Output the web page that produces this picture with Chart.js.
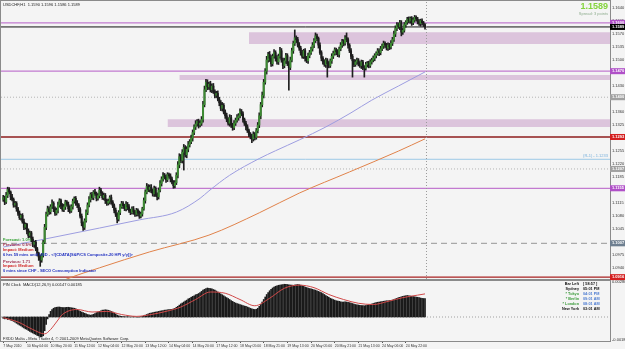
<!DOCTYPE html>
<html>
<head>
<meta charset="utf-8">
<script src="https://cdn.jsdelivr.net/npm/chart.js@4.4.1/dist/chart.umd.min.js"></script>
<style>
html, body { margin: 0; padding: 0; background: #f4f4f4; }
body { width: 625px; height: 349px; position: relative; overflow: hidden; }
#main { position: absolute; left: 0; top: 0; }
#macd { position: absolute; left: 0; top: 280px; }
</style>
</head>
<body>
<canvas id="main" width="625" height="281"></canvas>
<canvas id="macd" width="625" height="69"></canvas>
<script>
// USDCHF H1 - candles in pips above BASE
const BASE = 1.09;
const PIP = 0.0001;

const timeLabels = ['7 May 2010', '10 May 04:00', '10 May 20:00', '11 May 12:00', '12 May 04:00', '12 May 20:00',
  '13 May 12:00', '14 May 04:00', '14 May 20:00', '17 May 12:00', '18 May 05:00', '18 May 21:00',
  '19 May 13:00', '20 May 05:00', '20 May 21:00', '21 May 13:00', '24 May 06:00', '24 May 22:00'];
const LABEL_STEP = 16; // bars between time labels

const yTickLabels = ['1.1640', '1.1605', '1.1570', '1.1535', '1.1500', '1.1465', '1.1430', '1.1395', '1.1360',
  '1.1325', '1.1290', '1.1255', '1.1220', '1.1185', '1.1150', '1.1115', '1.1080', '1.1045', '1.1010', '1.0975', '1.0940'];

const firstOpen = 225;
const closes = [
  230, 218, 236, 252, 245, 232, 225, 210, 214, 200,
  188, 176, 182, 165, 150, 158, 140, 128, 135, 118, 104, 110, 92, 80, 70, 62,
  75, 110, 150, 185, 200,
  192, 205, 215, 200, 188, 196, 210, 222, 208, 198, 205, 218, 212, 200, 194, 206, 220, 228, 215, 210, 198,
  180, 162, 150, 168, 190,
  210, 225, 238, 230, 245, 240, 228, 235, 250, 242, 230, 236, 222, 215,
  220, 230, 218, 208, 196, 185, 172, 190, 205, 214, 208, 200, 212, 205, 195, 190, 200, 192, 185, 196, 188, 180, 186,
  200, 222, 245, 260, 252, 258,
  248, 240, 255, 238, 232, 250,
  268, 280, 290, 285, 278, 292, 288, 280, 272, 262,
  270, 290, 318, 340, 330, 352, 365, 345, 360, 372, 380,
  390, 405, 420, 428, 435,
  425, 430, 440,
  480, 520, 540, 528,
  535, 520, 530, 515, 505, 510, 495, 485, 470, 478, 460, 450,
  440, 430, 445, 425, 418, 430, 438, 445,
  450, 462, 455, 440, 430, 420, 410, 400,
  395, 388, 400, 392, 410,
  425, 450, 480, 505,
  540, 570, 600, 615, 605, 590, 610,
  620, 605, 595, 610, 625, 600, 585, 598, 612, 590, 580,
  600, 625, 645, 660, 655, 640, 632,
  620, 610, 625, 605, 598, 612, 620, 630, 640,
  652, 665, 658, 640,
  620, 605, 595, 588, 600, 590, 585, 598, 610,
  618, 628, 622, 615, 630,
  640, 650, 645, 660, 655, 640, 625, 610, 598, 588, 595,
  600, 590, 585, 595, 580, 578, 588,
  592, 585, 595, 600,
  605, 612, 618, 625, 620, 630, 638, 645, 640,
  632, 640, 635, 645, 655,
  670, 685, 695, 690, 700, 675,
  680, 695, 702, 710, 705, 712, 700, 708, 715, 710, 703, 698, 706, 700, 695, 689
];
const wickUp = [
  6, 4, 8, 6, 5, 3, 7, 4, 6, 5,   4, 6, 3, 5, 7, 4, 3, 6, 5, 4,
  6, 3, 5, 4, 3, 6, 4, 5, 8, 6,   7, 5, 6, 9, 4, 5, 6, 8, 5, 4,
  6, 7, 5, 4, 6, 8, 5, 6, 4, 5,   7, 4, 5, 6, 3, 5, 7, 6, 8, 5,
  6, 4, 7, 5, 6, 8, 5, 4, 6, 5,   4, 6, 5, 7, 4, 5, 6, 4, 5, 7,
  6, 5, 4, 7, 5, 6, 4, 5, 6, 4,   5, 4, 6, 5, 4, 7, 6, 8, 5, 6,
  7, 5, 6, 4, 5, 6, 8, 6, 7, 5,   6, 5, 4, 6, 5, 4, 6, 7, 9, 8,
  6, 7, 8, 5, 7, 9, 6, 8, 7, 6,   9, 5, 6, 7, 8, 9, 10, 8, 7, 6,
  8, 6, 7, 5, 6, 7, 5, 6, 8, 5,   6, 7, 5, 8, 6, 5, 7, 6, 8, 6,
  7, 5, 6, 4, 5, 6, 4, 5, 6, 7,   5, 6, 7, 8, 6, 9, 8, 7, 10, 6,
  8, 7, 6, 8, 5, 7, 6, 9, 6, 5,   7, 6, 5, 6, 8, 7, 6, 21, 5, 6,
  7, 5, 6, 4, 6, 5, 7, 6, 5, 7,   6, 8, 5, 4, 6, 5, 4, 6, 5, 4,
  6, 5, 7, 6, 5, 4, 6, 5, 7, 6,   5, 6, 13, 5, 4, 6, 5, 4, 6, 5,
  4, 6, 5, 4, 5, 6, 4, 5, 6, 5,   6, 5, 4, 6, 5, 7, 5, 6, 4, 5,
  6, 5, 7, 6, 8, 7, 6, 5, 7, 6,   5, 6, 4, 5, 6, 4, 5, 6, 5, 4,
  5, 6, 4, 5, 4, 3
];
const wickDn = [
  5, 7, 4, 6, 5, 8, 4, 6, 5, 7,   6, 5, 7, 4, 6, 5, 8, 6, 5, 7,
  6, 8, 5, 7, 9, 17, 6, 5, 4, 6,  5, 7, 6, 4, 8, 6, 5, 7, 6, 8,
  5, 6, 7, 5, 8, 6, 4, 7, 5, 6,   7, 6, 5, 8, 8, 6, 4, 6, 5, 7,
  5, 6, 4, 7, 5, 6, 7, 5, 6, 8,   6, 5, 7, 6, 5, 7, 6, 10, 5, 6,
  4, 7, 5, 6, 8, 5, 6, 4, 7, 6,   5, 7, 6, 5, 6, 4, 7, 5, 6, 7,
  5, 6, 7, 5, 8, 6, 5, 7, 6, 5,   7, 5, 6, 8, 5, 7, 6, 5, 7, 8,
  6, 7, 48, 6, 8, 7, 6, 5, 8, 6,  7, 6, 8, 5, 6, 7, 6, 5, 8, 7,
  6, 8, 5, 7, 6, 5, 8, 6, 7, 5,   7, 6, 5, 8, 6, 7, 5, 6, 5, 7,
  6, 5, 7, 6, 8, 5, 6, 7, 10, 6,  7, 5, 6, 7, 8, 6, 7, 5, 8, 6,
  9, 7, 6, 5, 8, 6, 7, 5, 6, 8,   6, 7, 5, 61, 6, 5, 7, 6, 8, 5,
  6, 7, 5, 6, 8, 5, 7, 6, 5, 6,   7, 5, 6, 8, 5, 7, 6, 5, 8, 36,
  6, 5, 7, 6, 5, 8, 6, 7, 5, 6,   7, 5, 6, 8, 5, 7, 44, 6, 5, 7,
  6, 5, 8, 6, 24, 5, 7, 6, 5, 6,  5, 7, 6, 5, 8, 6, 5, 7, 6, 5,
  6, 7, 5, 6, 5, 7, 6, 5, 8, 10,  6, 5, 7, 6, 5, 6, 7, 5, 6, 5,
  6, 5, 7, 6, 5, 6
];

// moving averages, [bar, pips above BASE]
const maBluePts = [[0, 97], [25, 116], [65, 148], [92, 170], [117, 191], [133, 228], [139, 248], [153, 290],
  [173, 335], [184, 356], [200, 385], [218, 420], [235, 458], [249, 492], [267, 530], [285, 568]];
const maOrangePts = [[38, 2], [43, 11], [65, 41], [99, 84], [139, 129], [173, 189], [200, 242], [234, 299],
  [267, 355], [285, 388]];

// MACD(12,26,9) in units of 0.00001
const macdHist = [
  -10, -15, -12, -20, -18, -25,
  -30, -35, -42, -50, -58, -65, -72, -80, -88, -95, -100, -108, -115, -122, -128, -135, -140, -148, -152, -158, -160, -150,
  -110, -60, -15, 20,
  45, 60, 70, 75, 78, 80, 80, 78, 76, 75, 76, 77, 78, 76, 74, 72, 70, 66, 60, 52, 45, 40, 35, 30,
  25, 20, 18, 15, 18, 22, 28, 35, 40, 45,
  50, 55, 56, 58, 56, 54, 50, 45, 40, 32,
  25, 15, 10, 8, 5, 4, 3,
  2, 3, 2, 0, 2, 3, 2, 0, -2, 0, 3, 5, 10,
  15, 20, 25, 30, 32, 35, 38, 40, 42, 45, 48, 50, 52, 55, 56, 58, 60, 60, 62, 65, 70,
  78, 85, 95, 105, 112, 120, 128, 135, 145, 150, 158, 165, 170, 178, 182, 188, 195, 205, 215, 222, 228, 232, 230,
  228, 225, 220, 215, 208, 200, 192, 185, 178, 170, 162, 155, 148, 140, 132, 125, 118, 112, 108, 104,
  100, 96, 92, 88, 85, 80, 75, 70, 66, 62, 60, 62, 70, 85,
  100, 120, 140, 160, 180, 195, 210, 222, 232, 240, 246, 250, 254, 256, 258, 260, 262, 262, 260, 258,
  256, 255, 254, 256, 258, 260, 258,
  255, 250, 245, 240, 236, 232, 228, 225, 222, 218, 215, 210, 205, 200, 195, 188, 180, 172, 165, 158,
  150, 145, 140, 135, 130, 128, 125,
  122, 120, 120, 122, 120, 118, 115, 112, 108, 104, 100, 98, 96, 94, 92, 92, 90, 92, 95, 98,
  100, 104, 108, 112, 115, 118, 120, 122, 124, 126, 128, 130, 130, 132, 134, 136, 140, 145, 150, 155,
  158, 162, 165, 168, 170, 172, 170, 168, 166, 164, 162, 160, 158, 155, 152, 150, 148, 147
];
const macdSignalPts = [[0, -5], [10, -40], [20, -100], [28, -135], [32, -100], [36, -40], [40, 20], [50, 60],
  [60, 40], [70, 45], [80, 20], [90, 5], [100, 20], [110, 45], [120, 80], [130, 140], [140, 200], [150, 190],
  [160, 140], [170, 90], [180, 150], [190, 230], [200, 255], [210, 235], [220, 180], [230, 140], [240, 110],
  [250, 100], [260, 125], [270, 155], [280, 175], [285, 185]];
const macdTickValues = [280, -185];

// drawn objects (price levels)
const bidPrice = 1.1589;
const purpleLevels = [1.1600, 1.1470, 1.1155];
const redLevels = [1.1293, 1.0916];
const dottedLevels = [1.1400, 1.1207];
const dashedLevel = 1.1007;
const pivotLevel = 1.1233;
const zoneTops = [1.1575, 1.1460, 1.1341];
const zoneBottoms = [1.1543, 1.1446, 1.1320];
const zoneStartBars = [166, 119, 111];
const nowBar = 286;

const newsLines = ['Forecast: 1.0%', 'Previous: 0.6%', 'Impact: Medium',
  '6 hrs 59 mins until USD - <![CDATA[S&P/CS Composite-20 HPI y/y]]>',
  'Previous: 1.71', 'Impact: Medium', '0 mins since CHF - SECO Consumption Indicator'];
const clockRows = [['Bar Left', '[ 58:57 ]'], ['Sydney', '05:01 PM'], ['* Tokyo', '04:01 PM'],
  ['* Berlin', '09:01 AM'], ['* London', '08:01 AM'], ['New York', '03:01 AM']];

// ---- chart ----
const X_MIN = -1.5, X_MAX = 410;
const Y_MIN = 1.0911, Y_MAX = 1.16588;
const FONT = '"Liberation Sans", Arial, sans-serif';
const toPrice = p => +(BASE + p * PIP).toFixed(5);

const opens = closes.map((c, i) => i === 0 ? firstOpen : closes[i - 1]);
const wickData = closes.map((c, i) => ({ x: i, y: [toPrice(Math.min(opens[i], c) - wickDn[i]), toPrice(Math.max(opens[i], c) + wickUp[i])] }));
const bodyData = closes.map((c, i) => ({ x: i, y: [toPrice(opens[i]), toPrice(c)] }));
const bodyColors = closes.map((c, i) => c >= opens[i] ? '#3d8a33' : '#1d1d1d');

function hLine(level, color, width, dash, order) {
  return { type: 'line', data: [{ x: X_MIN, y: level }, { x: X_MAX, y: level }], borderColor: color,
    borderWidth: width, borderDash: dash || [], pointRadius: 0, fill: false, order: order || 20 };
}
function curve(pts, color, conv) {
  return { type: 'line', data: pts.map(([b, v]) => ({ x: b, y: conv(v) })), borderColor: color, borderWidth: 1,
    pointRadius: 0, fill: false, cubicInterpolationMode: 'monotone', order: 10 };
}

const zoneSets = zoneTops.map((t, k) => ({ type: 'line', data: [{ x: zoneStartBars[k], y: t }, { x: X_MAX, y: t }],
  borderWidth: 0, borderColor: 'rgba(0,0,0,0)', pointRadius: 0, fill: { value: zoneBottoms[k] },
  backgroundColor: '#dcc4dc', order: 40 }));

const mainSets = [
  ...zoneSets,
  ...dottedLevels.map(l => hLine(l, '#b4b4b4', 1, [1, 2], 30)),
  hLine(dashedLevel, '#a8a8a8', 1.2, [6, 4], 30),
  hLine(pivotLevel, '#9cc8e6', 1, [], 30),
  ...purpleLevels.map(l => hLine(l, '#c27ad0', 1.3, [], 30)),
  ...redLevels.map((l, k) => hLine(l, k === 0 ? '#8e1c1c' : '#a82020', 1.3, [], 30)),
  hLine(bidPrice, '#111111', 1, [], 30),
  { type: 'line', data: [{ x: nowBar, y: Y_MIN }, { x: nowBar, y: Y_MAX }], borderColor: '#9a9a9a',
    borderWidth: 1, borderDash: [1, 2], pointRadius: 0, fill: false, order: 25 },
  curve(maBluePts, '#9d9de0', toPrice),
  curve(maOrangePts, '#e0824a', toPrice),
  { type: 'bar', data: wickData, backgroundColor: '#202020', barThickness: 1, grouped: false, order: 2 },
  { type: 'bar', data: bodyData, backgroundColor: bodyColors, barThickness: 1.4, minBarLength: 1, grouped: false, order: 1 }
];

const flagList = [
  [purpleLevels[0], '#b050c8'], [bidPrice, '#000000'], [purpleLevels[1], '#b050c8'], [dottedLevels[0], '#a0a0a0'],
  [redLevels[0], '#d42020'], [dottedLevels[1], '#a0a0a0'], [purpleLevels[2], '#b050c8'], [dashedLevel, '#6e7f90'],
  [redLevels[1], '#d42020']
];

const mainDecor = {
  id: 'mainDecor',
  afterDraw(chart) {
    const { ctx, chartArea: a, scales: { y } } = chart;
    ctx.save();
    ctx.strokeStyle = '#8a8a8a';
    ctx.lineWidth = 1;
    ctx.strokeRect(a.left - 0.5, a.top - 0.5, a.right - a.left + 1, a.bottom - a.top + 1);
    ctx.textBaseline = 'middle';
    // price flags on the axis
    flagList.forEach(([v, c]) => {
      const yy = y.getPixelForValue(v);
      ctx.fillStyle = c;
      ctx.fillRect(a.right, yy - 3, 15, 6);
      ctx.fillStyle = '#ffffff';
      ctx.font = 'bold 4px ' + FONT;
      ctx.textAlign = 'left';
      ctx.fillText(v.toFixed(4), a.right + 2, yy);
    });
    // header
    ctx.fillStyle = '#222';
    ctx.font = '4px ' + FONT;
    ctx.fillText('USDCHF,H1  1.1590 1.1596 1.1586 1.1589', 3, 5);
    ctx.textAlign = 'right';
    ctx.fillStyle = '#84d43c';
    ctx.font = 'bold 9px ' + FONT;
    ctx.fillText(bidPrice.toFixed(4), 608, 7);
    ctx.fillStyle = '#8fae8f';
    ctx.font = '4px ' + FONT;
    ctx.fillText('Spread: 3 points', 608, 14);
    ctx.fillStyle = '#78b0dc';
    ctx.fillText('(R-1) - ' + pivotLevel.toFixed(4), a.right - 2, y.getPixelForValue(pivotLevel) - 3);
    // news block
    const newsColors = ['#2e9e2e', '#a03050', '#d02020', '#2030c0', '#a03050', '#d02020', '#2030c0'];
    const newsY = [240, 245, 250, 255, 262, 266, 271];
    ctx.textAlign = 'left';
    newsLines.forEach((t, k) => {
      ctx.fillStyle = newsColors[k];
      ctx.font = 'bold 4px ' + FONT;
      ctx.fillText(t, 3, newsY[k]);
    });
    ctx.restore();
  }
};

new Chart(document.getElementById('main'), {
  type: 'bar',
  data: { datasets: mainSets },
  options: {
    responsive: false, animation: false, events: [], devicePixelRatio: 1,
    layout: { padding: { left: 1, top: 1, right: 0, bottom: 2 } },
    plugins: { legend: { display: false }, tooltip: { enabled: false } },
    scales: {
      x: { type: 'linear', min: X_MIN, max: X_MAX, display: false, offset: false },
      y: {
        position: 'right', min: Y_MIN, max: Y_MAX,
        afterBuildTicks: s => { s.ticks = yTickLabels.map(t => ({ value: parseFloat(t) })); },
        afterFit: s => { s.width = 15; s.paddingTop = 0; s.paddingBottom = 0; },
        ticks: { callback: v => v.toFixed(4), font: { size: 4, family: FONT }, color: '#333', padding: 1, autoSkip: false },
        grid: { drawOnChartArea: false, tickLength: 1, color: '#555' },
        border: { display: true, color: '#8a8a8a' }
      }
    }
  },
  plugins: [mainDecor]
});

const macdDecor = {
  id: 'macdDecor',
  afterDraw(chart) {
    const { ctx, chartArea: a } = chart;
    ctx.save();
    ctx.strokeStyle = '#8a8a8a';
    ctx.lineWidth = 1;
    ctx.strokeRect(a.left - 0.5, a.top - 0.5, a.right - a.left + 1, a.bottom - a.top + 1);
    ctx.textBaseline = 'middle';
    ctx.textAlign = 'left';
    ctx.fillStyle = '#222';
    ctx.font = '4px ' + FONT;
    ctx.fillText('PIN Clock', 3, 5);
    ctx.fillText('MACD(12,26,9) 0.00147 0.00185', 23, 5);
    ctx.fillText('FXDD Malta - Meta Trader 4, \u00a9 2001-2009 MetaQuotes Software Corp.', 3, 59);
    clockRows.forEach(([name, time], k) => {
      const yy = 4 + k * 5;
      const star = name.startsWith('*');
      ctx.font = 'bold 3.8px ' + FONT;
      ctx.textAlign = 'right';
      ctx.fillStyle = star ? '#3a9a3a' : '#111';
      ctx.fillText(name, 579, yy);
      ctx.textAlign = 'left';
      ctx.fillStyle = star ? '#4a7ad0' : '#111';
      ctx.fillText(time, 583, yy);
    });
    ctx.restore();
  }
};

new Chart(document.getElementById('macd'), {
  type: 'bar',
  data: {
    datasets: [
      hLine(0, '#a0a0a0', 1, [1, 2], 30),
      curve(macdSignalPts, '#d04848', v => v),
      { type: 'bar', data: macdHist.map((v, i) => ({ x: i, y: v })), backgroundColor: '#1a1a1a', barThickness: 1, grouped: false, order: 20 }
    ]
  },
  options: {
    responsive: false, animation: false, events: [], devicePixelRatio: 1,
    layout: { padding: { left: 1, top: 1, right: 0, bottom: 0 } },
    plugins: { legend: { display: false }, tooltip: { enabled: false } },
    scales: {
      x: {
        type: 'linear', min: X_MIN, max: X_MAX, offset: false,
        afterBuildTicks: s => { s.ticks = timeLabels.map((_, k) => ({ value: k * LABEL_STEP })); },
        afterFit: s => { s.height = 8; s.paddingLeft = 0; s.paddingRight = 0; },
        ticks: { callback: v => timeLabels[Math.round(v / LABEL_STEP)], align: 'start', maxRotation: 0, autoSkip: false,
          font: { size: 3.5, family: FONT }, color: '#333', padding: 1 },
        grid: { drawOnChartArea: false, offset: false, tickLength: 2, color: '#555' },
        border: { display: true, color: '#8a8a8a' }
      },
      y: {
        position: 'right', min: -192, max: 288,
        afterBuildTicks: s => { s.ticks = macdTickValues.map(v => ({ value: v })); },
        afterFit: s => { s.width = 15; s.paddingTop = 0; s.paddingBottom = 0; },
        ticks: { callback: v => (v / 100000).toFixed(6), font: { size: 4, family: FONT }, color: '#333', padding: 1, autoSkip: false },
        grid: { drawOnChartArea: false, tickLength: 1, color: '#555' },
        border: { display: true, color: '#8a8a8a' }
      }
    }
  },
  plugins: [macdDecor]
});
</script>
</body>
</html>
